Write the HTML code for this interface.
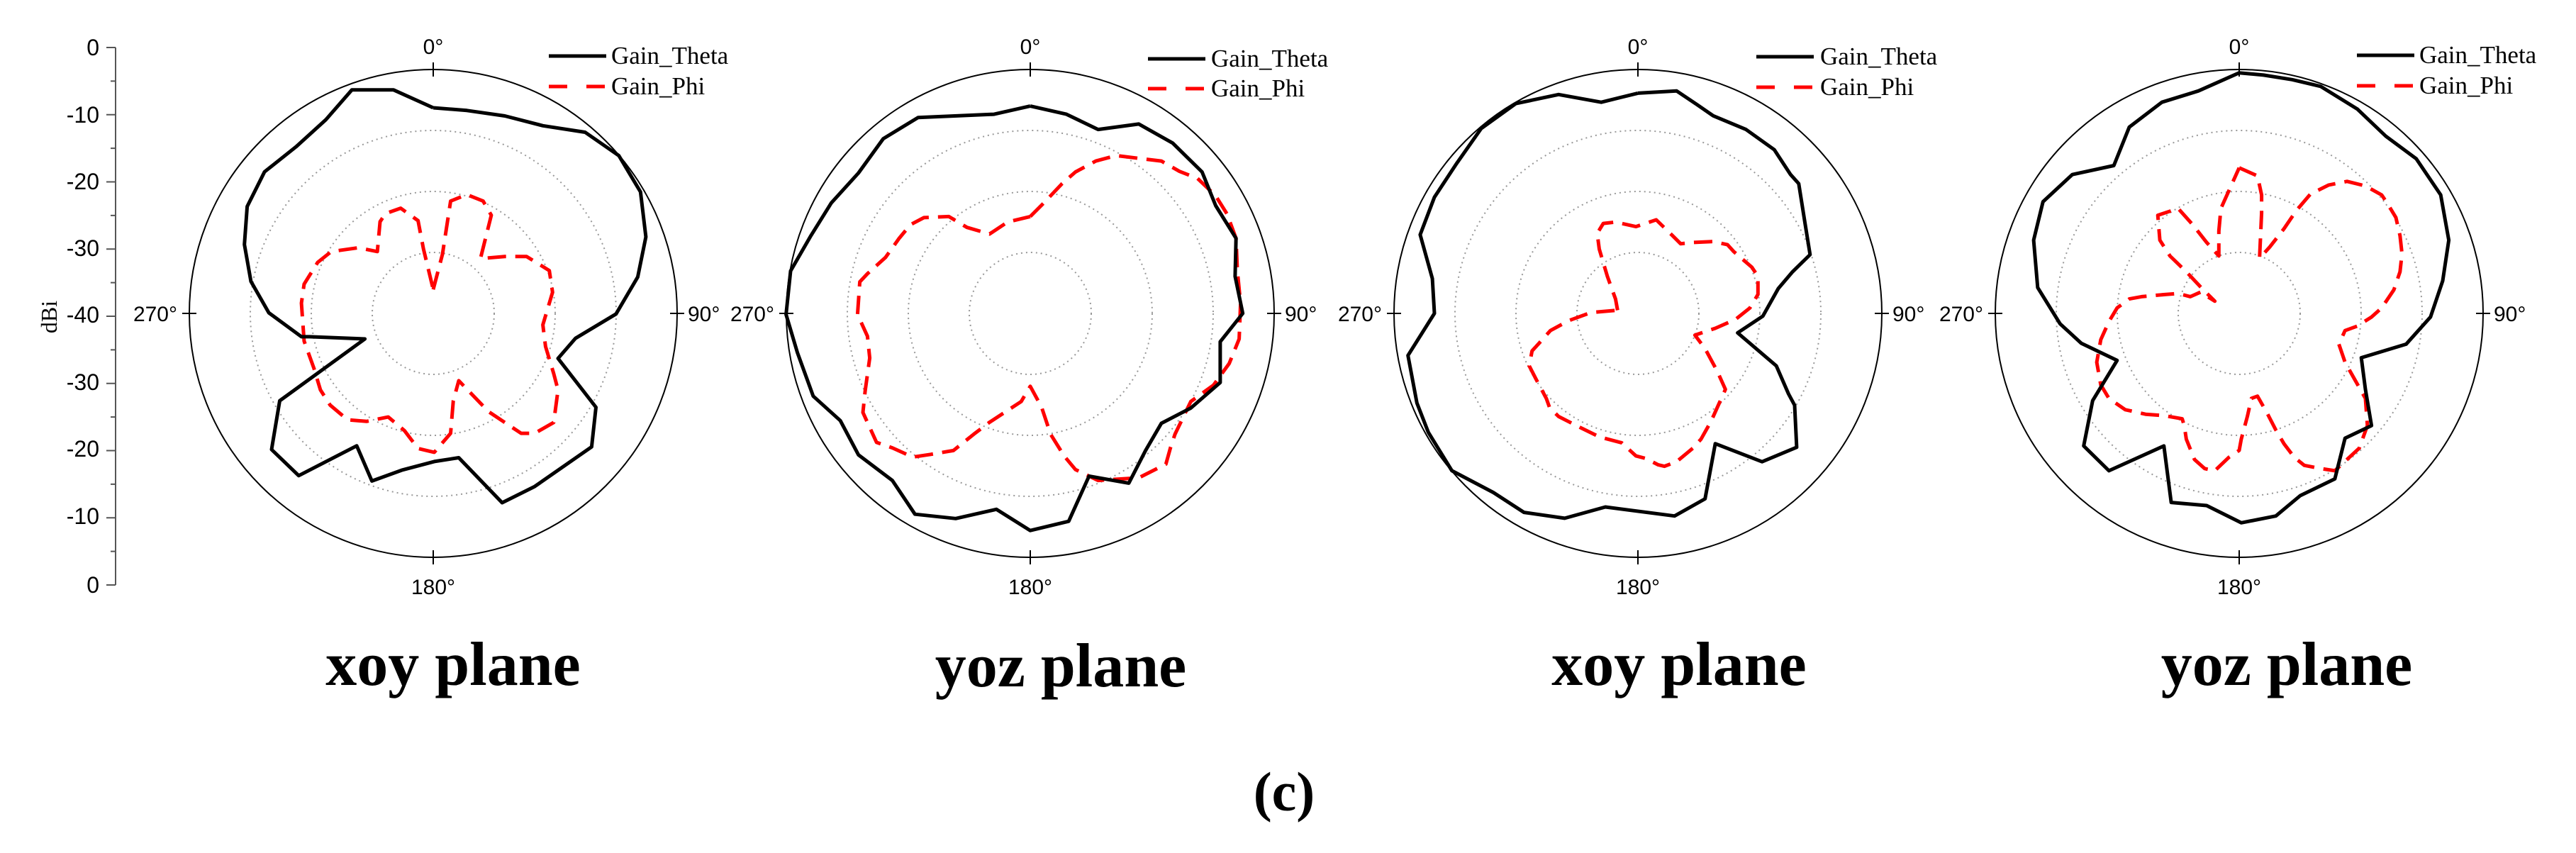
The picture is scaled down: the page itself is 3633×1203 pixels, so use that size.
<!DOCTYPE html>
<html><head><meta charset="utf-8"><style>
html,body{margin:0;padding:0;background:#fff;}
svg{display:block;}
</style></head><body>
<svg id="s" width="3633" height="1203" viewBox="0 0 3633 1203" xmlns="http://www.w3.org/2000/svg">
<rect width="3633" height="1203" fill="#fff"/>
<g id="axis" font-family="Liberation Sans, sans-serif" font-size="32" fill="#000" text-anchor="end">
<line x1="163" y1="67" x2="163" y2="825" stroke="#555" stroke-width="2"/>
<text x="140" y="78">0</text>
<text x="140" y="173">-10</text>
<text x="140" y="267">-20</text>
<text x="140" y="361">-30</text>
<text x="140" y="455">-40</text>
<text x="140" y="550">-30</text>
<text x="140" y="644">-20</text>
<text x="140" y="739">-10</text>
<text x="140" y="836">0</text>
<text transform="translate(80,447) rotate(-90)" text-anchor="middle" font-family="Liberation Serif, serif" font-size="32">dBi</text>
</g>
<g id="plots"></g>
<g font-family="Liberation Serif, serif" font-weight="bold" font-size="88" text-anchor="middle" fill="#000">
<text x="639" y="966">xoy plane</text>
<text x="1496" y="968">yoz plane</text>
<text x="2368" y="966">xoy plane</text>
<text x="3225" y="966">yoz plane</text>
<text x="1811" y="1143" font-size="78">(c)</text>
</g>
</svg>
<script>
var NS="http://www.w3.org/2000/svg";
var svg=document.getElementById('s');
var ax=document.getElementById('axis');
function el(t,a,p){var e=document.createElementNS(NS,t);for(var k in a)e.setAttribute(k,a[k]);(p||svg).appendChild(e);return e;}
// left axis ticks
for(var i=0;i<=16;i++){var y=67+i*(825-67)/16;var L=(i%2==0)?13:7;el('line',{x1:163-L,y1:y,x2:163,y2:y,stroke:'#555','stroke-width':2},ax);}
var plots=[
 {cx:611,cy:442,zx:798,zy:579,fx:1.307,fy:1.307,lx:774,lt:862,ly1:79,ly2:122,
  b:[[798,200],[860,205],[930,215],[1000,233],[1078,245],[1140,288],[1180,355],[1190,438],[1175,512],[1135,580],[1060,625],[1028,662],[1098,752],[1090,825],[985,898],[925,928],[845,845],[800,852],[740,868],[685,888],[657,823],[550,878],[500,830],[515,740],[672,626],[570,622],[555,622],[495,578],[462,520],[450,452],[455,382],[487,318],[545,272],[600,222],[648,167],[725,167],[798,200]],
  r:[[798,535],[815,470],[830,372],[860,360],[890,372],[905,398],[885,478],[930,474],[970,474],[1012,500],[1018,540],[1000,600],[1005,640],[1020,690],[1028,720],[1020,780],[985,800],[960,800],[900,760],[845,703],[835,740],[830,800],[800,835],[770,828],[745,795],[715,770],[675,778],[640,775],[608,748],[590,720],[578,680],[560,630],[555,560],[560,525],[585,485],[610,465],[660,458],[695,465],[700,410],[710,395],[738,385],[770,408],[780,460],[798,535]]},
 {cx:1453,cy:442,zx:710,zy:578,fx:1.568,fy:1.303,lx:1619,lt:1708,ly1:83,ly2:125,
  b:[[710,197],[790,212],[860,240],[950,230],[1025,265],[1090,318],[1120,380],[1165,440],[1163,510],[1180,578],[1130,630],[1130,705],[1065,752],[1000,780],[965,830],[928,890],[840,877],[795,960],[710,977],[635,938],[545,955],[455,947],[405,885],[330,838],[290,775],[230,730],[195,650],[170,580],[180,500],[225,435],[270,375],[330,320],[385,257],[462,218],[630,212],[710,197]],
  r:[[710,400],[740,375],[780,340],[810,318],[855,298],[900,288],[950,293],[1000,298],[1040,317],[1080,330],[1120,362],[1145,395],[1165,440],[1168,500],[1175,560],[1172,625],[1150,670],[1115,710],[1065,740],[1030,800],[1020,825],[1010,855],[950,880],[860,885],[810,865],[785,840],[755,800],[735,750],[710,712],[690,740],[620,778],[585,800],[540,830],[490,837],[450,842],[405,825],[370,815],[340,760],[345,720],[355,660],[350,620],[328,580],[333,520],[350,505],[390,475],[420,440],[445,415],[475,402],[530,400],[570,420],[620,432],[660,410],[710,400]]},
 {cx:2310,cy:442,zx:715,zy:692,fx:1.742,fy:1.568,lx:2477,lt:2567,ly1:80,ly2:123,
  b:[[715,205],[810,200],[860,230],[900,255],[980,285],[1050,330],[1090,385],[1110,405],[1125,490],[1138,562],[1095,600],[1060,637],[1022,698],[960,735],[1055,808],[1085,870],[1100,895],[1105,988],[1020,1020],[905,980],[880,1102],[805,1140],[635,1120],[535,1145],[435,1132],[360,1088],[258,1040],[200,955],[172,890],[150,785],[215,692],[210,615],[180,518],[215,435],[270,360],[330,283],[415,228],[520,208],[625,225],[715,205]],
  r:[[665,685],[660,660],[640,610],[620,550],[615,515],[630,493],[660,490],[710,500],[760,485],[800,520],[820,538],[850,535],[900,533],[935,540],[950,555],[995,590],[1010,610],[1010,650],[990,680],[955,705],[905,725],[855,740],[880,770],[910,820],[930,860],[915,890],[895,930],[870,970],[850,990],[810,1020],[780,1030],[765,1027],[735,1013],[710,1007],[675,978],[620,965],[575,945],[520,920],[498,900],[490,880],[465,838],[448,808],[455,775],[465,765],[500,730],[545,708],[600,690],[665,685]]},
 {cx:3158,cy:442,zx:740,zy:692,fx:1.742,fy:1.568,lx:3324,lt:3412,ly1:78,ly2:121,
  b:[[740,160],[800,165],[870,175],[940,190],[1030,240],[1100,300],[1175,350],[1235,430],[1255,530],[1240,620],[1210,700],[1150,760],[1040,790],[1050,860],[1065,940],[1000,968],[975,1058],[890,1095],[830,1140],[745,1155],[660,1117],[573,1110],[555,985],[420,1040],[358,985],[380,885],[440,796],[352,758],[300,715],[245,635],[235,530],[258,445],[330,385],[432,365],[470,280],[550,225],[640,200],[740,160]],
  r:[[740,370],[785,388],[795,430],[795,470],[790,570],[815,545],[850,505],[880,465],[915,428],[960,408],[1005,400],[1050,410],[1090,430],[1105,450],[1125,480],[1135,520],[1140,560],[1135,600],[1120,640],[1090,680],[1065,700],[1030,720],[1000,730],[985,760],[1000,800],[1025,840],[1050,880],[1055,940],[1035,990],[1005,1015],[975,1040],[940,1035],[900,1028],[875,1010],[850,980],[830,950],[810,915],[785,875],[770,880],[760,920],[745,970],[740,995],[715,1010],[680,1040],[655,1035],[630,1015],[610,970],[605,940],[600,925],[555,918],[510,915],[460,905],[420,880],[400,850],[390,800],[400,750],[420,710],[440,680],[470,660],[500,655],[560,650],[590,648],[620,655],[645,645],[680,665],[650,638],[610,600],[570,565],[545,530],[540,475],[590,460],[625,495],[660,535],[690,565],[690,510],[695,460],[720,410],[740,370]]}
];
var g=document.getElementById('plots');
plots.forEach(function(p){
 var R=344,cx=p.cx,cy=p.cy;
 [258,172,86].forEach(function(r){el('circle',{cx:cx,cy:cy,r:r,fill:'none',stroke:'#999','stroke-width':2,'stroke-dasharray':'2 5'},g);});
 el('circle',{cx:cx,cy:cy,r:R,fill:'none',stroke:'#000','stroke-width':2},g);
 el('line',{x1:cx,y1:cy-R-10,x2:cx,y2:cy-R+10,stroke:'#000','stroke-width':2},g);
 el('line',{x1:cx,y1:cy+R-10,x2:cx,y2:cy+R+10,stroke:'#000','stroke-width':2},g);
 el('line',{x1:cx-R-10,y1:cy,x2:cx-R+10,y2:cy,stroke:'#000','stroke-width':2},g);
 el('line',{x1:cx+R-10,y1:cy,x2:cx+R+10,y2:cy,stroke:'#000','stroke-width':2},g);
 function conv(a){return a.map(function(q){return ((q[0]-p.zx)/p.fx+cx).toFixed(1)+','+((q[1]-p.zy)/p.fy+cy).toFixed(1);}).join(' ');}
 el('polyline',{points:conv(p.r),fill:'none',stroke:'#f00','stroke-width':5,'stroke-dasharray':'26 13','stroke-linejoin':'round'},g);
 el('polyline',{points:conv(p.b),fill:'none',stroke:'#000','stroke-width':5,'stroke-linejoin':'round'},g);
 var t;
 t=el('text',{x:cx,y:cy-R-22,'font-family':'Liberation Sans, sans-serif','font-size':30,'text-anchor':'middle'},g);t.textContent='0°';
 t=el('text',{x:cx,y:cy+R+52,'font-family':'Liberation Sans, sans-serif','font-size':30,'text-anchor':'middle'},g);t.textContent='180°';
 t=el('text',{x:cx-R-17,y:cy+11,'font-family':'Liberation Sans, sans-serif','font-size':30,'text-anchor':'end'},g);t.textContent='270°';
 t=el('text',{x:cx+R+15,y:cy+11,'font-family':'Liberation Sans, sans-serif','font-size':30,'text-anchor':'start'},g);t.textContent='90°';
 el('line',{x1:p.lx,y1:p.ly1,x2:p.lx+81,y2:p.ly1,stroke:'#000','stroke-width':5},g);
 el('line',{x1:p.lx,y1:p.ly2,x2:p.lx+81,y2:p.ly2,stroke:'#f00','stroke-width':5,'stroke-dasharray':'26 27'},g);
 t=el('text',{x:p.lt,y:p.ly1+11,'font-family':'Liberation Serif, serif','font-size':35},g);t.textContent='Gain_Theta';
 t=el('text',{x:p.lt,y:p.ly2+11,'font-family':'Liberation Serif, serif','font-size':35},g);t.textContent='Gain_Phi';
});
</script>
</body></html>
